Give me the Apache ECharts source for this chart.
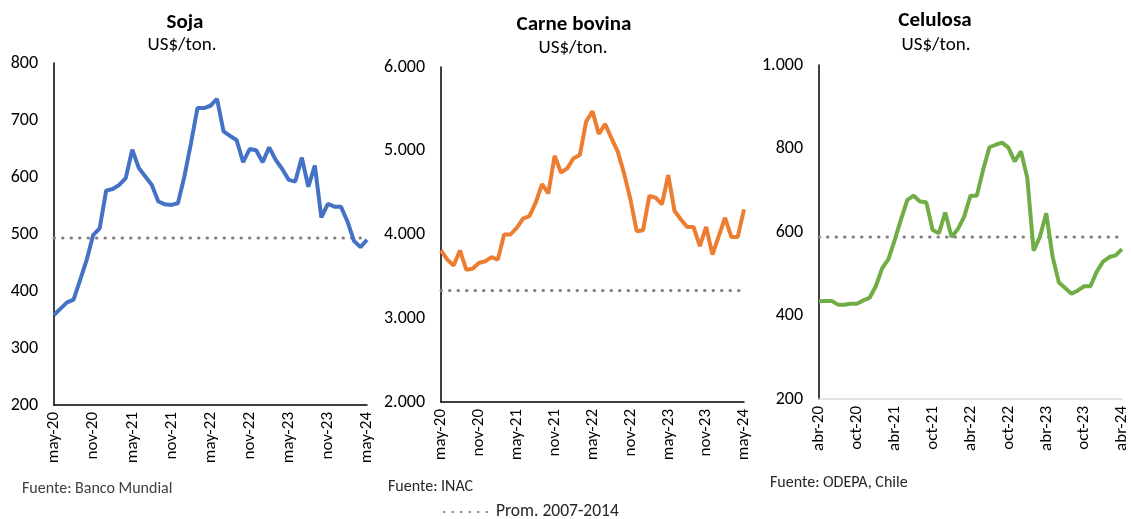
<!DOCTYPE html>
<html>
<head>
<meta charset="utf-8">
<script src="https://cdn.jsdelivr.net/npm/echarts@6/dist/echarts.min.js"></script>
<style>
  html, body { margin: 0; padding: 0; background: #fff; }
  #chart { width: 1131px; height: 519px; }
</style>
</head>
<body>
<div id="chart"></div>
<script>
  // meses en español
  var mesesCortos = ['ene', 'feb', 'mar', 'abr', 'may', 'jun', 'jul', 'ago', 'sep', 'oct', 'nov', 'dic'];

  // Soja: may-20 a may-24
  var sojaValores = [358, 369, 380, 385, 419, 454, 498, 510, 576, 579, 586, 598, 648,
    616, 601, 586, 557, 552, 551, 554, 601, 659, 721, 721, 725, 737, 680, 672, 665,
    626, 649, 647, 626, 652, 630, 614, 595, 592, 634, 583, 620, 529, 553, 548, 548,
    522, 488, 477, 490];
  var sojaProm = 493;

  // Carne bovina: may-20 a may-24
  var carneValores = [3810, 3700, 3630, 3810, 3580, 3590, 3660, 3680, 3730, 3700, 4000,
    4000, 4080, 4190, 4220, 4380, 4600, 4490, 4940, 4740, 4790, 4910, 4950, 5350, 5470,
    5200, 5320, 5150, 4990, 4730, 4420, 4040, 4050, 4460, 4440, 4360, 4710, 4280, 4180,
    4090, 4090, 3860, 4090, 3760, 3980, 4200, 3970, 3970, 4300];
  var carneProm = 3330;

  // Celulosa: abr-20 a abr-24
  var celulosaValores = [434, 435, 435, 426, 426, 428, 428, 436, 442, 470, 513, 535, 581,
    631, 677, 687, 673, 671, 605, 597, 647, 588, 607, 637, 687, 687, 749, 803, 809, 814,
    802, 769, 793, 729, 555, 589, 645, 541, 479, 466, 452, 460, 470, 470, 505, 529, 540,
    544, 559];
  var celulosaProm = 588;

  function etiquetasMeses(mesInicio, anioInicio, n) {
    var out = [];
    for (var i = 0; i < n; i++) {
      var m = (mesInicio + i) % 12;
      var a = anioInicio + Math.floor((mesInicio + i) / 12);
      out.push(mesesCortos[m] + '-' + String(a).slice(2));
    }
    return out;
  }
  var mesesSoja = etiquetasMeses(4, 2020, sojaValores.length);
  var mesesCarne = etiquetasMeses(4, 2020, carneValores.length);
  var mesesCelulosa = etiquetasMeses(3, 2020, celulosaValores.length);

  var fuente = "Carlito, Calibri, 'Open Sans', sans-serif";
  var nombreProm = 'Prom. 2007-2014';

  function miles(v) {
    return String(v).replace(/\B(?=(\d{3})+(?!\d))/g, '.');
  }

  function ejeX(idx, datos, colorLinea) {
    return {
      type: 'category', gridIndex: idx, data: datos, boundaryGap: false,
      axisLine: { lineStyle: { color: colorLinea, width: 1.5 } },
      axisTick: { show: false },
      axisLabel: { interval: 5, rotate: 90, margin: 7, color: '#000', fontSize: 17, fontFamily: fuente }
    };
  }
  function ejeY(idx, min, max, paso) {
    return {
      type: 'value', gridIndex: idx, min: min, max: max, interval: paso,
      axisLine: { show: true, lineStyle: { color: '#000', width: 1.5 } },
      axisTick: { show: false },
      splitLine: { show: false },
      axisLabel: { color: '#000', fontSize: 18, fontFamily: fuente, margin: 16, formatter: miles }
    };
  }
  function serie(idx, datos, color) {
    return {
      type: 'line', xAxisIndex: idx, yAxisIndex: idx, data: datos,
      symbol: 'none', lineStyle: { color: color, width: 4 }, z: 3
    };
  }
  function promedio(idx, valor, n) {
    var datos = [];
    for (var i = 0; i < n; i++) datos.push(valor);
    return {
      name: nombreProm, type: 'line', xAxisIndex: idx, yAxisIndex: idx, data: datos,
      symbol: 'none', itemStyle: { color: '#808080' },
      lineStyle: { color: '#808080', width: 3, type: [0.5, 8], cap: 'round' }, z: 2
    };
  }
  function texto(t, x, y, tam, negrita, color, centrado) {
    return {
      text: t, left: x, top: y, padding: 0, textAlign: centrado ? 'center' : 'left',
      textStyle: { fontSize: tam, fontWeight: negrita ? 'bold' : 'normal', color: color, fontFamily: fuente }
    };
  }

  var option = {
    animation: false,
    backgroundColor: '#fff',
    title: [
      texto('Soja', 185, 12, 21, true, '#000', true),
      texto('US$/ton.', 182, 36, 19, false, '#000', true),
      texto('Carne bovina', 574, 14, 21, true, '#000', true),
      texto('US$/ton.', 573, 39, 19, false, '#000', true),
      texto('Celulosa', 935, 10, 21, true, '#000', true),
      texto('US$/ton.', 936, 36, 19, false, '#000', true),
      texto('Fuente: Banco Mundial', 22, 481, 16, false, '#404040', false),
      texto('Fuente: INAC', 388, 479, 16, false, '#262626', false),
      texto('Fuente: ODEPA, Chile', 770, 475, 16, false, '#262626', false)
    ],
    legend: {
      data: [nombreProm], left: 443, top: 503, padding: 0,
      itemWidth: 47, itemHeight: 4, itemGap: 6,
      itemStyle: { opacity: 0 },
      textStyle: { fontSize: 17.5, color: '#262626', fontFamily: fuente }
    },
    grid: [
      { left: 54, top: 63, width: 313, height: 342 },
      { left: 441, top: 67, width: 303, height: 335 },
      { left: 819, top: 65, width: 303, height: 334 }
    ],
    xAxis: [
      ejeX(0, mesesSoja, '#000'),
      ejeX(1, mesesCarne, '#000'),
      ejeX(2, mesesCelulosa, '#d9d9d9')
    ],
    yAxis: [
      ejeY(0, 200, 800, 100),
      ejeY(1, 2000, 6000, 1000),
      ejeY(2, 200, 1000, 200)
    ],
    series: [
      promedio(0, sojaProm, sojaValores.length),
      promedio(1, carneProm, carneValores.length),
      promedio(2, celulosaProm, celulosaValores.length),
      serie(0, sojaValores, '#4472C4'),
      serie(1, carneValores, '#ED7D31'),
      serie(2, celulosaValores, '#70AD47')
    ]
  };

  var myChart = echarts.init(document.getElementById('chart'));
  myChart.setOption(option);
</script>
</body>
</html>
